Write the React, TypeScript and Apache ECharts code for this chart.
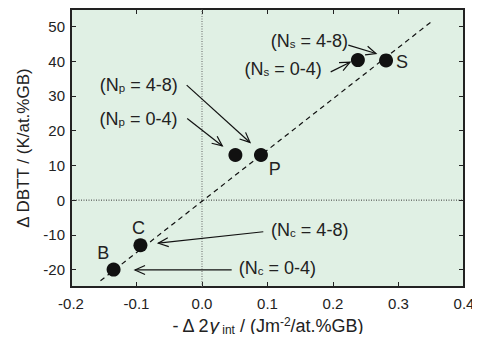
import React, { useEffect, useRef } from "react";
import * as echarts from "echarts";

const FONT = "'Liberation Sans', Arial, Helvetica, sans-serif";

// Data points
const pointNames = ["B", "C", "P0", "P", "S0", "S"];
const pointX = [-0.135, -0.094, 0.051, 0.09, 0.238, 0.281];
const pointY = [-20, -13, 13, 13, 40.3, 40.2];

// Dashed trend line end points
const fitLine = [
  [-0.155, -23.2],
  [0.352, 51.6],
];

// Reference zero lines
const zeroV = [
  [0, -25],
  [0, 55],
];
const zeroH = [
  [-0.2, 0],
  [0.4, 0],
];

// Ticks
const xTicks = [-0.2, -0.1, 0.0, 0.1, 0.2, 0.3, 0.4];
const yTicks = [-20, -10, 0, 10, 20, 30, 40, 50];

// Annotations: [x1, y1, x2, y2] arrows
const arrows = [
  [-0.0234, 33.1, 0.0733, 16.6],
  [-0.0226, 23.5, 0.031, 15.6],
  [0.2234, 44.6, 0.2656, 42.2],
  [0.1965, 36.9, 0.226, 39.7],
  [0.0936, -9.1, -0.0667, -12.4],
  [0.0453, -20.1, -0.1023, -20.1],
];

// Labels: text, sub, x, y
const labelMain = ["(N", "(N", "(N", "(N", "(N", "(N", "B", "C", "P", "S"];
const labelSub = ["p", "p", "s", "s", "c", "c", "", "", "", ""];
const labelTail = [" = 4-8)", " = 0-4)", " = 4-8)", " = 0-4)", " = 4-8)", " = 0-4)", "", "", "", ""];
const labelX = [-0.0965, -0.097, 0.164, 0.124, 0.1645, 0.115, -0.1507, -0.097, 0.111, 0.3053];
const labelY = [33.1, 23.3, 45.9, 37.6, -8.6, -19.6, -15.3, -8.1, 8.9, 39.7];

export default function App() {
  const ref = useRef<HTMLDivElement>(null);
  useEffect(() => {
    if (!ref.current) return;
    const chart = echarts.init(ref.current, null, { renderer: "svg" });
    const textColor = "#222";
    const axisLine = { show: true, onZero: false, lineStyle: { color: "#222", width: 2 } };
    const tickBase = { show: true, inside: true, length: 5, lineStyle: { color: "#222", width: 1 } };
    const option: any = {
      animation: false,
      backgroundColor: "#fff",
      grid: {
        left: 71,
        right: 16,
        top: 9,
        bottom: 55,
        show: true,
        backgroundColor: "#e0f0e4",
        borderColor: "#222",
        borderWidth: 2,
      },
      xAxis: [
        {
          type: "value",
          min: -0.2,
          max: 0.4,
          interval: 0.1,
          position: "bottom",
          axisLine,
          splitLine: { show: false },
          axisLabel: {
            show: true,
            margin: 9,
            fontSize: 15,
            fontFamily: FONT,
            color: textColor,
            customValues: xTicks,
            formatter: (v: number) => v.toFixed(1),
          },
          axisTick: { ...tickBase, customValues: xTicks },
          name: "{a|- Δ 2}{g|γ}{s| int}{a| / (Jm}{u|-2}{a|/at.%GB)}",
          nameLocation: "middle",
          nameGap: 25,
          nameTextStyle: {
            fontFamily: FONT,
            color: textColor,
            rich: {
              a: { fontSize: 18, fontFamily: FONT, color: textColor, lineHeight: 20 },
              g: { fontSize: 19, fontFamily: FONT, fontStyle: "italic", color: textColor, lineHeight: 20 },
              s: { fontSize: 12, fontFamily: FONT, color: textColor, padding: [8, 0, 0, 0], lineHeight: 20 },
              u: { fontSize: 12, fontFamily: FONT, color: textColor, padding: [0, 0, 8, 0], lineHeight: 20 },
            },
          },
        },
        {
          type: "value",
          min: -0.2,
          max: 0.4,
          interval: 0.1,
          position: "top",
          axisLine,
          splitLine: { show: false },
          axisLabel: { show: false },
          axisTick: { ...tickBase, customValues: xTicks },
        },
      ],
      yAxis: [
        {
          type: "value",
          min: -25,
          max: 55,
          position: "left",
          axisLine,
          splitLine: { show: false },
          axisLabel: {
            show: true,
            margin: 6,
            fontSize: 15,
            fontFamily: FONT,
            color: textColor,
            customValues: yTicks,
          },
          axisTick: { ...tickBase, customValues: yTicks },
          name: "Δ DBTT / (K/at.%GB)",
          nameLocation: "middle",
          nameGap: 38,
          nameTextStyle: { fontSize: 17, fontFamily: FONT, color: textColor },
        },
        {
          type: "value",
          min: -25,
          max: 55,
          position: "right",
          axisLine,
          splitLine: { show: false },
          axisLabel: { show: false },
          axisTick: { ...tickBase, customValues: yTicks },
        },
      ],
      series: [
        {
          type: "line",
          data: zeroV,
          symbol: "none",
          lineStyle: { color: "#666", width: 1, type: [1, 1.5] },
          silent: true,
        },
        {
          type: "line",
          data: zeroH,
          symbol: "none",
          lineStyle: { color: "#333", width: 1, type: [1, 1.5] },
          silent: true,
        },
        {
          type: "line",
          data: fitLine,
          symbol: "none",
          lineStyle: { color: "#111", width: 1.2, type: [5, 4] },
          silent: true,
        },
        {
          type: "scatter",
          data: pointX.map((x, i) => ({ name: pointNames[i], value: [x, pointY[i]] })),
          symbol: "circle",
          symbolSize: 14,
          itemStyle: { color: "#111", opacity: 1 },
          z: 5,
        },
        {
          type: "custom",
          data: arrows,
          silent: true,
          z: 6,
          renderItem: (params: any, api: any) => {
            const p1 = api.coord([api.value(0), api.value(1)]);
            const p2 = api.coord([api.value(2), api.value(3)]);
            const ang = Math.atan2(p2[1] - p1[1], p2[0] - p1[0]);
            const L = 11;
            const h = 0.42;
            const a1 = [p2[0] - L * Math.cos(ang - h), p2[1] - L * Math.sin(ang - h)];
            const a2 = [p2[0] - L * Math.cos(ang + h), p2[1] - L * Math.sin(ang + h)];
            return {
              type: "group",
              children: [
                {
                  type: "line",
                  shape: { x1: p1[0], y1: p1[1], x2: p2[0], y2: p2[1] },
                  style: { stroke: "#111", lineWidth: 1.2 },
                },
                {
                  type: "polyline",
                  shape: { points: [a1, p2, a2] },
                  style: { stroke: "#111", lineWidth: 1.2, fill: "none" },
                },
              ],
            };
          },
        },
        {
          type: "custom",
          data: labelX.map((x, i) => [x, labelY[i], i]),
          silent: true,
          z: 7,
          renderItem: (params: any, api: any) => {
            const i = api.value(2);
            const p = api.coord([api.value(0), api.value(1)]);
            const sub = labelSub[i];
            const txt = sub
              ? `{a|${labelMain[i]}}{s|${sub}}{a|${labelTail[i]}}`
              : `{a|${labelMain[i]}}`;
            return {
              type: "text",
              x: p[0],
              y: p[1],
              style: {
                text: txt,
                align: "center",
                verticalAlign: "middle",
                fill: "#222",
                rich: {
                  a: { fontSize: 18, fontFamily: FONT, fill: "#222", color: "#222", lineHeight: 20 },
                  s: { fontSize: 11.5, fontFamily: FONT, fill: "#222", color: "#222", lineHeight: 20, padding: [6, 0, 0, 0] },
                },
              },
            };
          },
        },
      ],
    };
    chart.setOption(option);
    return () => chart.dispose();
  }, []);
  return <div ref={ref} style={{ width: 480, height: 342, margin: -8 }} />;
}
